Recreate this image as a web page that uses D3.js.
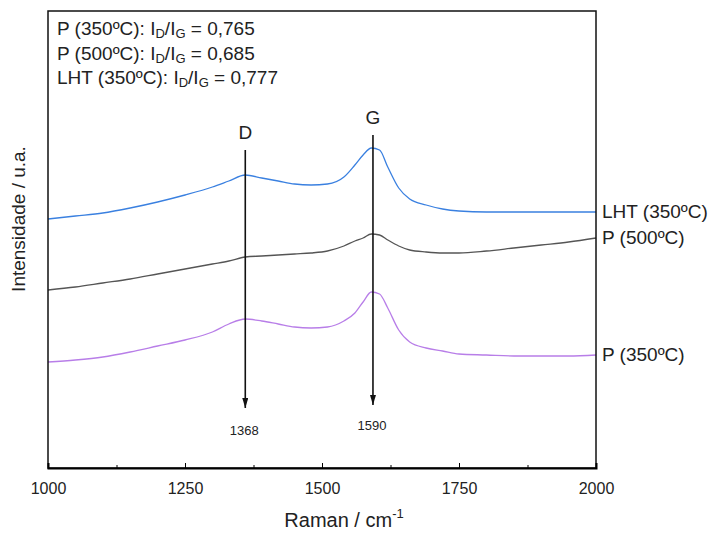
<!DOCTYPE html>
<html>
<head>
<meta charset="utf-8">
<script src="https://cdn.jsdelivr.net/npm/d3@7"></script>
<style>
  body { margin: 0; background: #fff; }
  text { font-family: "Liberation Sans", Arial, sans-serif; fill: #222; }
</style>
</head>
<body>
<div id="main"></div>
<script>
const width = 710;
const height = 533;
const margin = {top: 11, right: 114, bottom: 65, left: 48};

// Raman shift grid (cm-1)
const wavenumbers = [1000, 1050, 1100, 1150, 1200, 1250, 1300, 1330, 1360, 1390,
    1420, 1450, 1480, 1510, 1540, 1560, 1575, 1590, 1605, 1620,
    1640, 1660, 1690, 1720, 1750, 1800, 1850, 1900, 1950, 2000];

// intensities (u.a., stacked offsets as in the figure)
const lht350 = [249, 252, 255, 260, 266, 273, 281, 287, 293, 290,
    287, 284, 283, 284, 291, 303, 313, 320, 318, 301,
    280, 269, 263, 259, 257, 256, 256, 256, 256, 256];
const p500 = [178, 181, 185, 189, 194, 199, 204, 207, 211, 212,
    213, 214, 215, 217, 222, 227, 230, 234, 233, 228,
    222, 218, 216, 215, 215, 217, 220, 223, 226, 230];
const p350 = [106, 108, 111, 116, 122, 128, 136, 144, 149, 147,
    144, 141, 140, 141, 147, 155, 166, 176, 174, 160,
    138, 126, 120, 117, 114, 113, 112, 112, 112, 113];

const seriesNames = ['LHT (350ºC)', 'P (500ºC)', 'P (350ºC)'];
const seriesColors = ['#3a80e0', '#555555', '#b87ee8'];
const ratios = [
    {name: 'P (350ºC)', value: '0,765'},
    {name: 'P (500ºC)', value: '0,685'},
    {name: 'LHT (350ºC)', value: '0,777'}
];

// band markers: position, label, top of line (intensity), bottom (intensity)
const bands = [
    {x: 1360, name: 'D', label: '1368', top: 318, bottom: 60, labelDy: 27},
    {x: 1593, name: 'G', label: '1590', top: 333, bottom: 63, labelDy: 25}
];
const xTicks = [1000, 1250, 1500, 1750, 2000];
const xMinor = [1125, 1375, 1625, 1875];

const narrow = '"Liberation Sans Narrow", "Arial Narrow", "Liberation Sans", Arial, sans-serif';

const svg = d3.select('#main')
    .append('svg')
    .attr('width', width)
    .attr('height', height);

const x = d3.scaleLinear()
    .domain([1000, 2000])
    .range([margin.left, width - margin.right]);

const y = d3.scaleLinear()
    .domain([0, 457])
    .range([height - margin.bottom, margin.top]);

const series = [lht350, p500, p350];

const line = d3.line()
    .x((d, i) => x(wavenumbers[i]))
    .y(d => y(d))
    .curve(d3.curveMonotoneX);

series.forEach((s, k) => {
    svg.append('path')
        .datum(s)
        .attr('fill', 'none')
        .attr('stroke', seriesColors[k])
        .attr('stroke-width', 1.3)
        .attr('d', line);
    svg.append('text')
        .attr('x', x(2000) + 6)
        .attr('y', y(s[s.length - 1]) + 6)
        .attr('font-size', 19)
        .text(seriesNames[k]);
});

// frame
svg.append('rect')
    .attr('x', x(1000))
    .attr('y', y(457))
    .attr('width', x(2000) - x(1000))
    .attr('height', y(0) - y(457))
    .attr('fill', 'none')
    .attr('stroke', '#111')
    .attr('stroke-width', 1.5);

// x axis with inward ticks
const xAxis = svg.append('g')
    .attr('transform', `translate(0,${y(0)})`)
    .call(d3.axisBottom(x).tickValues(xTicks).tickSize(-5).tickPadding(15)
        .tickFormat(d3.format('d')));
xAxis.select('.domain').attr('stroke-width', 2);
xAxis.selectAll('.tick text')
    .attr('font-size', 16)
    .attr('fill', '#222')
    .style('font-family', narrow);
svg.append('g')
    .attr('transform', `translate(0,${y(0)})`)
    .call(d3.axisBottom(x).tickValues(xMinor).tickSize(-3).tickFormat(''))
    .call(g => g.select('.domain').remove());

// band markers
svg.append('defs').append('marker')
    .attr('id', 'arrow')
    .attr('viewBox', '0 0 10 6')
    .attr('refX', 10)
    .attr('refY', 3)
    .attr('markerWidth', 10)
    .attr('markerHeight', 6)
    .attr('markerUnits', 'userSpaceOnUse')
    .attr('orient', 'auto')
    .append('path')
    .attr('d', 'M0,0 L10,3 L0,6 Z')
    .attr('fill', '#111');

bands.forEach(b => {
    svg.append('line')
        .attr('x1', x(b.x)).attr('x2', x(b.x))
        .attr('y1', y(b.top)).attr('y2', y(b.bottom))
        .attr('stroke', '#111')
        .attr('stroke-width', 1.6)
        .attr('marker-end', 'url(#arrow)');
    svg.append('text')
        .attr('x', x(b.x))
        .attr('y', y(b.top) - 11)
        .attr('text-anchor', 'middle')
        .attr('font-size', 19)
        .text(b.name);
    svg.append('text')
        .attr('x', x(b.x) - 1)
        .attr('y', y(b.bottom) + b.labelDy)
        .attr('text-anchor', 'middle')
        .attr('font-size', 13)
        .style('font-family', narrow)
        .text(b.label);
});

// ratio annotations
ratios.forEach((r, i) => {
    const t = svg.append('text')
        .attr('x', x(1000) + 9)
        .attr('y', margin.top + 24 + i * 24.5)
        .attr('font-size', 19);
    t.append('tspan').text(`${r.name}: I`);
    t.append('tspan').attr('font-size', 13).attr('dy', 3).text('D');
    t.append('tspan').attr('dy', -3).text('/I');
    t.append('tspan').attr('font-size', 13).attr('dy', 3).text('G');
    t.append('tspan').attr('dy', -3).text(` = ${r.value}`);
});

// axis titles
const xt = svg.append('text')
    .attr('x', (x(1000) + x(2000)) / 2 + 22)
    .attr('y', 527)
    .attr('text-anchor', 'middle')
    .attr('font-size', 20)
    .style('font-family', narrow);
xt.append('tspan').text('Raman / cm');
xt.append('tspan').attr('font-size', 13).attr('dy', -9).text('-1');

svg.append('text')
    .attr('transform', `translate(25,${219}) rotate(-90)`)
    .attr('text-anchor', 'middle')
    .attr('font-size', 19)
    .text('Intensidade / u.a.');
</script>
</body>
</html>
